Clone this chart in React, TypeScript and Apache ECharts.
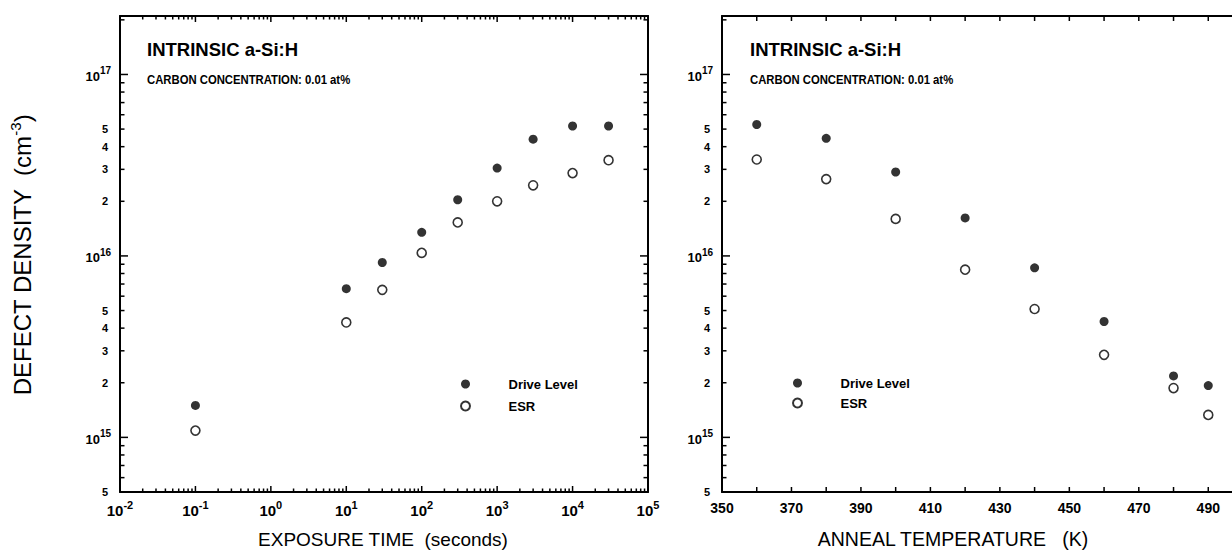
import React, { useEffect, useRef } from 'react';
import * as echarts from 'echarts';

// ---------- data ----------
const exposureTime = [0.1, 10, 30, 100, 300, 1000, 3000, 10000, 30000];
const exposureDrive = [1.5e15, 6.6e15, 9.2e15, 1.35e16, 2.04e16, 3.05e16, 4.4e16, 5.2e16, 5.2e16];
const exposureESR = [1.09e15, 4.3e15, 6.5e15, 1.04e16, 1.53e16, 2.0e16, 2.45e16, 2.86e16, 3.37e16];

const annealTemp = [360, 380, 400, 420, 440, 460, 480, 490];
const annealDrive = [5.3e16, 4.45e16, 2.9e16, 1.62e16, 8.6e15, 4.35e15, 2.18e15, 1.93e15];
const annealESR = [3.4e16, 2.65e16, 1.6e16, 8.4e15, 5.1e15, 2.85e15, 1.87e15, 1.33e15];

// ---------- axis tick lists ----------
const yDecades = [1e15, 1e16, 1e17];
const yMinorTicks = [
  5e14, 6e14, 7e14, 8e14, 9e14,
  2e15, 3e15, 4e15, 5e15, 6e15, 7e15, 8e15, 9e15,
  2e16, 3e16, 4e16, 5e16, 6e16, 7e16, 8e16, 9e16,
  2e17,
];
const yMinorLabels = [5e14, 2e15, 3e15, 4e15, 5e15, 2e16, 3e16, 4e16, 5e16];
const xDecades = [1e-2, 1e-1, 1e0, 1e1, 1e2, 1e3, 1e4, 1e5];
const xMantissas = [2, 3, 4, 5, 6, 7, 8, 9];
const tempTicks = [350, 360, 370, 380, 390, 400, 410, 420, 430, 440, 450, 460, 470, 480, 490, 500];
const tempLabels = [350, 370, 390, 410, 430, 450, 470, 490];

const FONT = '"Liberation Sans", Arial, Helvetica, sans-serif';

const xMinorTicks: number[] = [];
xDecades.slice(0, -1).forEach((d) => xMantissas.forEach((m) => xMinorTicks.push(+(m * d).toPrecision(3))));

const decadeLabel = (v: number) => `{b|10}{s|${Math.round(Math.log10(v))}}`;
const mantissaLabel = (v: number) => {
  const e = Math.floor(Math.log10(v) + 1e-9);
  return String(Math.round(v / Math.pow(10, e)));
};

const X_MIN = 0.01;
const X_MAX = 1e5;
const Y_MIN = 5e14;
const Y_MAX = 2.1e17;
const T_MIN = 350;
const T_MAX = 500;

const GRID_L = { left: 120, top: 16, width: 528, height: 476 };
const GRID_R = { left: 722, top: 16, width: 521, height: 476 };

const blackLine = { show: true, onZero: false, lineStyle: { color: '#000', width: 2 } };

function frameAxis(o: any) {
  return {
    type: o.type || 'log',
    logBase: 10,
    gridIndex: o.grid,
    position: o.position,
    min: o.min,
    max: o.max,
    interval: o.interval,
    axisLine: o.line === false ? { show: false } : blackLine,
    axisTick: { show: false },
    axisLabel: o.labels || o.formatter
      ? {
          show: true,
          customValues: o.labels,
          formatter: o.formatter,
          margin: o.margin,
          color: '#000',
          fontFamily: FONT,
          fontWeight: 'bold',
          fontSize: o.fontSize,
          rich: o.rich,
        }
      : { show: false },
    splitLine: { show: false },
  };
}

const yRich = {
  b: { fontFamily: FONT, fontWeight: 'bold', fontSize: 13, color: '#000', lineHeight: 17, verticalAlign: 'bottom' },
  s: { fontFamily: FONT, fontWeight: 'bold', fontSize: 10, color: '#000', lineHeight: 10, verticalAlign: 'top' },
};
const xRich = {
  b: { fontFamily: FONT, fontWeight: 'bold', fontSize: 15, color: '#000', lineHeight: 19, verticalAlign: 'bottom' },
  s: { fontFamily: FONT, fontWeight: 'bold', fontSize: 11, color: '#000', lineHeight: 11, verticalAlign: 'top' },
};

export default function App() {
  const ref = useRef<HTMLDivElement>(null);

  useEffect(() => {
    if (!ref.current) return;
    const chart = echarts.init(ref.current, undefined, { renderer: 'svg' });

    const LX = { grid: 0, min: X_MIN, max: X_MAX };
    const LY = { grid: 0, min: Y_MIN, max: Y_MAX };
    const RX = { grid: 1, type: 'value', min: T_MIN, max: T_MAX, interval: 10 };
    const RY = { grid: 1, min: Y_MIN, max: Y_MAX };

    const legendBase = {
      data: ['Drive Level', 'ESR'],
      orient: 'vertical',
      itemWidth: 76,
      itemHeight: 9,
      padding: 0,
      selectedMode: false,
      textStyle: { fontFamily: FONT, fontWeight: 'bold', fontSize: 13, color: '#000', lineHeight: 14 },
    };

    const scatter = (name: string, xs: number[], ys: number[], xi: number, yi: number, open: boolean) => ({
      type: 'scatter',
      name,
      xAxisIndex: xi,
      yAxisIndex: yi,
      symbol: 'circle',
      symbolSize: 9,
      data: xs.map((x, i) => [x, ys[i]]),
      itemStyle: open
        ? { color: '#fff', borderColor: '#000', borderWidth: 1.6 }
        : { color: '#000', borderColor: '#000', borderWidth: 0 },
      emphasis: { disabled: true },
      z: 5,
    });

    const textGraphics: any[] = [
      { type: 'text', left: 147, top: 40, style: { text: 'INTRINSIC a-Si:H', fontFamily: FONT, fontWeight: 'bold', fontSize: 18.5, fill: '#000' } },
      { type: 'text', left: 147, top: 73, scaleX: 0.87, style: { text: 'CARBON CONCENTRATION: 0.01 at%', fontFamily: FONT, fontWeight: 'bold', fontSize: 13, fill: '#000' } },
      { type: 'text', left: 750, top: 40, style: { text: 'INTRINSIC a-Si:H', fontFamily: FONT, fontWeight: 'bold', fontSize: 18.5, fill: '#000' } },
      { type: 'text', left: 750, top: 73, scaleX: 0.87, style: { text: 'CARBON CONCENTRATION: 0.01 at%', fontFamily: FONT, fontWeight: 'bold', fontSize: 13, fill: '#000' } },
      {
        type: 'text', x: 383, y: 539,
        style: { text: 'EXPOSURE TIME  (seconds)', fontFamily: FONT, fontSize: 19, fill: '#000', align: 'center', verticalAlign: 'middle' },
      },
      {
        type: 'text', x: 953, y: 539,
        style: { text: 'ANNEAL TEMPERATURE   (K)', fontFamily: FONT, fontSize: 19.5, fill: '#000', align: 'center', verticalAlign: 'middle' },
      },
      {
        type: 'text', x: 21, y: 255, rotation: Math.PI / 2,
        style: {
          text: '{a|DEFECT DENSITY  (cm}{s|-3}{a|)}',
          align: 'center', verticalAlign: 'middle',
          rich: {
            a: { fontFamily: FONT, fontSize: 24, fill: '#000', lineHeight: 27, verticalAlign: 'bottom' },
            s: { fontFamily: FONT, fontSize: 15, fill: '#000', lineHeight: 15, verticalAlign: 'top' },
          },
        },
      },
    ];

    chart.setOption({
      animation: false,
      grid: [
        { ...GRID_L, outerBoundsMode: 'none', containLabel: false },
        { ...GRID_R, outerBoundsMode: 'none', containLabel: false },
      ],
      xAxis: [
        frameAxis({ ...LX, position: 'bottom', labels: xDecades, formatter: decadeLabel, margin: 7, fontSize: 15, rich: xRich }),
        frameAxis({ ...LX, position: 'top' }),
        frameAxis({
          ...RX, position: 'bottom', margin: 9, fontSize: 14,
          formatter: (v: number) => (tempLabels.indexOf(v) >= 0 ? String(v) : ''),
        }),
        frameAxis({ ...RX, position: 'top' }),
      ],
      yAxis: [
        frameAxis({ ...LY, position: 'left', labels: yDecades, formatter: decadeLabel, margin: 9, fontSize: 13, rich: yRich }),
        frameAxis({ ...LY, position: 'left', line: false, labels: yMinorLabels, formatter: mantissaLabel, margin: 12, fontSize: 11 }),
        frameAxis({ ...LY, position: 'right' }),
        frameAxis({ ...RY, position: 'left', labels: yDecades, formatter: decadeLabel, margin: 9, fontSize: 13, rich: yRich }),
        frameAxis({ ...RY, position: 'left', line: false, labels: yMinorLabels, formatter: mantissaLabel, margin: 12, fontSize: 11 }),
      ],
      legend: [
        { ...legendBase, left: 460, top: 377, itemGap: 8 },
        { ...legendBase, left: 792, top: 376, itemGap: 6 },
      ],
      series: [
        scatter('Drive Level', exposureTime, exposureDrive, 0, 0, false),
        scatter('ESR', exposureTime, exposureESR, 0, 0, true),
        scatter('Drive Level', annealTemp, annealDrive, 2, 3, false),
        scatter('ESR', annealTemp, annealESR, 2, 3, true),
      ],
      graphic: textGraphics,
    });

    // ---- inward tick marks ----
    // Positions come from the series' coordinate system (chart.convertToPixel);
    // if that is unavailable, fall back to the same log / linear mapping of the grid.
    const lg = (v: number) => Math.log10(v);
    const fallbackL = (x: number, y: number) => [
      GRID_L.left + ((lg(x) - lg(X_MIN)) / (lg(X_MAX) - lg(X_MIN))) * GRID_L.width,
      GRID_L.top + GRID_L.height - ((lg(y) - lg(Y_MIN)) / (lg(Y_MAX) - lg(Y_MIN))) * GRID_L.height,
    ];
    const fallbackR = (x: number, y: number) => [
      GRID_R.left + ((x - T_MIN) / (T_MAX - T_MIN)) * GRID_R.width,
      GRID_R.top + GRID_R.height - ((lg(y) - lg(Y_MIN)) / (lg(Y_MAX) - lg(Y_MIN))) * GRID_R.height,
    ];
    const toPx = (seriesIndex: number, x: number, y: number): number[] => {
      let p: any = null;
      try {
        p = chart.convertToPixel({ seriesIndex } as any, [x, y] as any);
      } catch (e) {
        p = null;
      }
      if (!p || !Number.isFinite(p[0]) || !Number.isFinite(p[1])) {
        p = seriesIndex === 0 ? fallbackL(x, y) : fallbackR(x, y);
      }
      return p;
    };

    const ticks: any[] = [];
    const seg = (x1: number, y1: number, x2: number, y2: number) => {
      if ([x1, y1, x2, y2].every((n) => Number.isFinite(n))) {
        ticks.push({
          type: 'line', silent: true, z: 100, zlevel: 0,
          shape: { x1, y1, x2, y2 },
          style: { stroke: '#000', lineWidth: 1.5 },
        });
      }
    };

    const [lxl, lyb] = toPx(0, X_MIN, Y_MIN);
    const [lxr, lyt] = toPx(0, X_MAX, Y_MAX);
    yDecades.forEach((v) => { const y = toPx(0, 1, v)[1]; seg(lxl, y, lxl + 8, y); seg(lxr - 8, y, lxr, y); });
    yMinorTicks.forEach((v) => { const y = toPx(0, 1, v)[1]; seg(lxl, y, lxl + 4.5, y); seg(lxr - 4.5, y, lxr, y); });
    xDecades.forEach((v) => { const x = toPx(0, v, 1e16)[0]; seg(x, lyb, x, lyb - 6); seg(x, lyt, x, lyt + 6); });
    xMinorTicks.forEach((v) => { const x = toPx(0, v, 1e16)[0]; seg(x, lyb, x, lyb - 3.5); seg(x, lyt, x, lyt + 3.5); });

    const [rxl, ryb] = toPx(2, T_MIN, Y_MIN);
    const ryt = toPx(2, T_MIN, Y_MAX)[1];
    tempTicks.forEach((v) => { const x = toPx(2, v, 1e16)[0]; seg(x, ryb, x, ryb - 5); seg(x, ryt, x, ryt + 5); });
    yDecades.forEach((v) => { const y = toPx(2, T_MIN, v)[1]; seg(rxl, y, rxl + 8, y); });
    yMinorTicks.forEach((v) => { const y = toPx(2, T_MIN, v)[1]; seg(rxl, y, rxl + 4.5, y); });

    chart.setOption({ graphic: [...textGraphics, ...ticks] });

    return () => chart.dispose();
  }, []);

  return (
    <div
      ref={ref}
      style={{ position: 'fixed', left: 0, top: 0, width: 1232, height: 554, overflow: 'hidden', background: '#fff' }}
    />
  );
}
